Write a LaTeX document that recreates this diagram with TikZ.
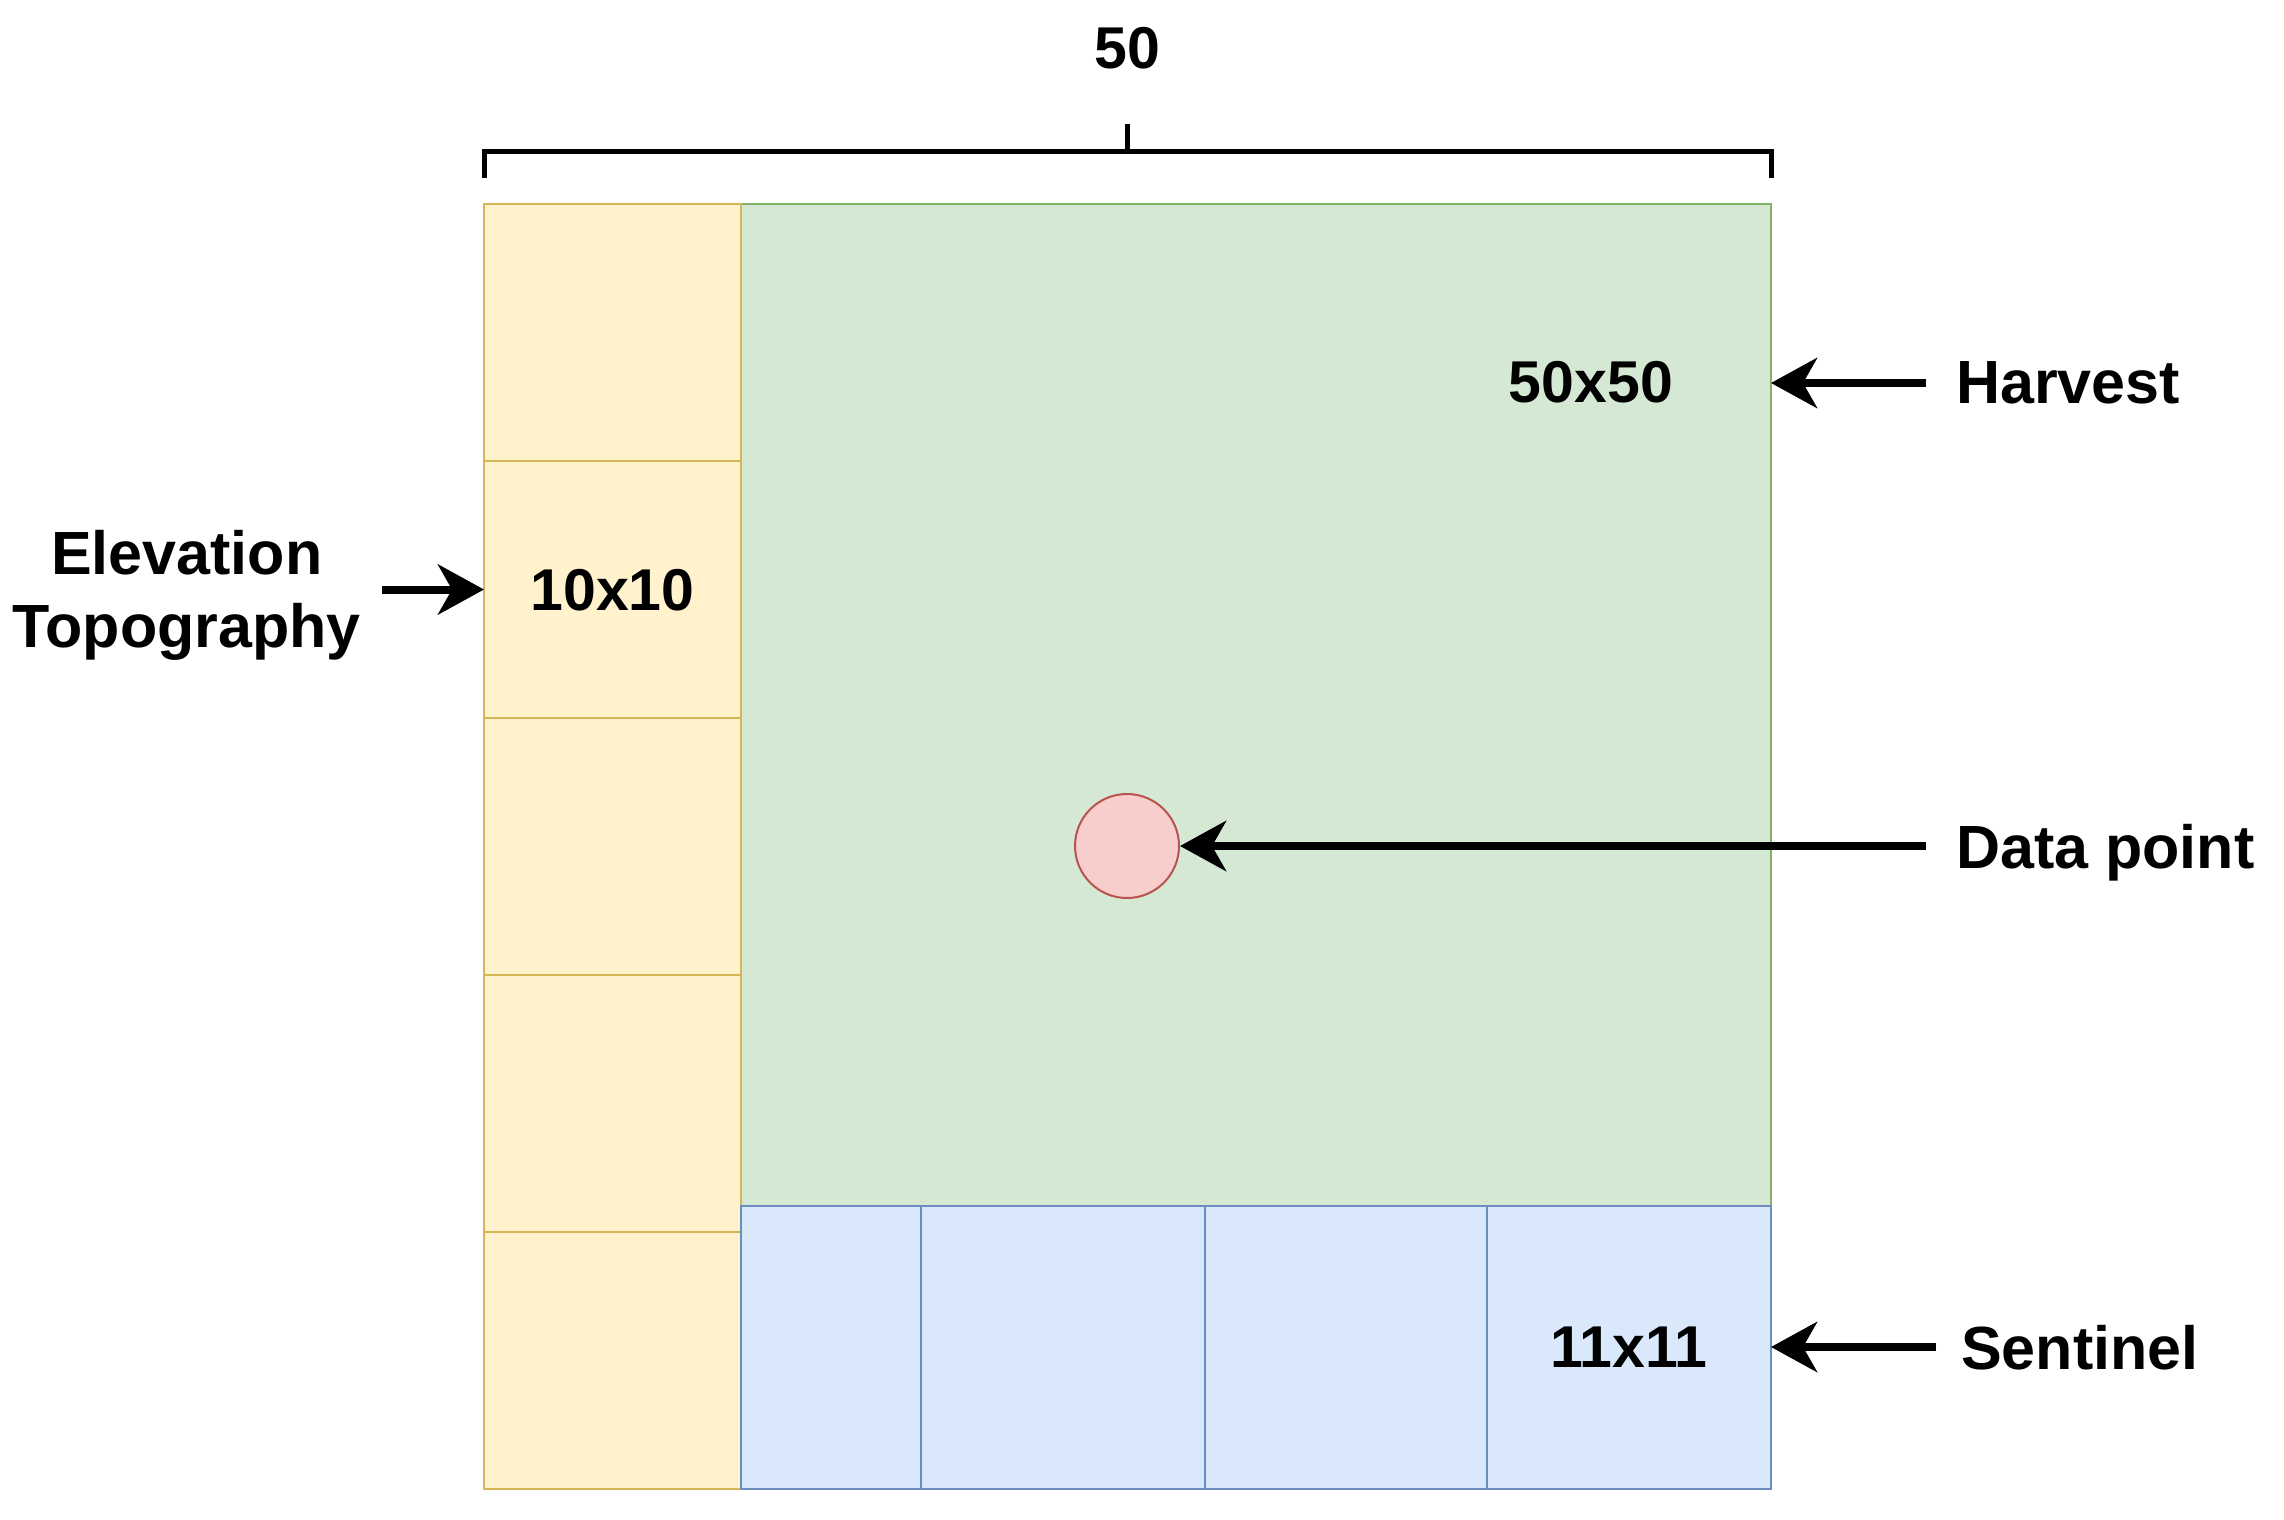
\documentclass[tikz,border=0pt]{standalone}
\usepackage{fontspec}
\setmainfont{Liberation Sans}
\usetikzlibrary{arrows.meta}
\definecolor{yfill}{HTML}{FFF2CC}
\definecolor{ydraw}{HTML}{D6B656}
\definecolor{gfill}{HTML}{D5E8D4}
\definecolor{gdraw}{HTML}{82B366}
\definecolor{bfill}{HTML}{DAE8FC}
\definecolor{bdraw}{HTML}{6C8EBF}
\definecolor{rfill}{HTML}{F8CECC}
\definecolor{rdraw}{HTML}{B85450}
\tikzset{
  cell/.style={rectangle, line width=2.5pt, inner sep=0pt, outer sep=0pt},
  ycell/.style={cell, fill=yfill, draw=ydraw, minimum width=257pt, minimum height=257pt},
  gcell/.style={cell, fill=gfill, draw=gdraw},
  bcell/.style={cell, fill=bfill, draw=bdraw, minimum height=283pt},
  txt/.style={font=\fontsize{59}{73}\selectfont\bfseries, inner sep=0pt, text depth=0pt},
  lbl/.style={txt, font=\fontsize{61}{73}\selectfont\bfseries, anchor=west, inner xsep=30pt},
  arr/.style={line width=8pt, -{Stealth[length=46pt,width=50pt,inset=14pt]}},
  bracket/.style={line width=5pt}
}
\begin{document}
\begin{tikzpicture}[x=1pt,y=-1pt]
\useasboundingbox (0,0) rectangle (2284,1520);
\fill[white] (0,0) rectangle (2284,1520);

% green harvest area
\node[gcell, minimum width=1030pt, minimum height=1002pt] (green) at (1256,705) {};

% yellow elevation column
\node[ycell] (y1) at (612.5,332.5) {};
\node[ycell] (y2) at (612.5,589.5) {};
\node[ycell] (y3) at (612.5,846.5) {};
\node[ycell] (y4) at (612.5,1103.5) {};
\node[ycell] (y5) at (612.5,1360.5) {};

% blue sentinel row
\node[bcell, minimum width=180pt] (b1) at (831,1347.5) {};
\node[bcell, minimum width=284pt] (b2) at (1063,1347.5) {};
\node[bcell, minimum width=282pt] (b3) at (1346,1347.5) {};
\node[bcell, minimum width=284pt] (b4) at (1629,1347.5) {};

% inner texts
\node[txt] (t10) at (y2) {10x10};
\node[txt] (t50) at (1591,382) {50x50};
\node[txt] (t11) at (b4) {11x11};

% data point
\node[circle, fill=rfill, draw=rdraw, line width=2pt, minimum size=104pt, inner sep=0pt] (dp) at (1127,846) {};

% dimension bracket
\draw[bracket] (484,178) -- (484,151) -- (1771,151) -- (1771,178);
\draw[bracket] (1127,151) -- (1127,124);
\node[txt] (dim) at (1127,48) {50};

% labels and arrows
\node[lbl] (harvest) at (1926,383) {Harvest};
\draw[arr] (harvest.west) -- (harvest.west -| green.east);

\node[lbl] (dptext) at (1926,846) {Data point};
\draw[arr] (dptext.west) -- (dp.east);

\node[lbl, inner xsep=25pt] (sentinel) at (1936,1347) {Sentinel};
\draw[arr] (sentinel.west) -- (sentinel.west -| b4.east);

\node[font=\fontsize{61}{73}\selectfont\bfseries, align=center, inner ysep=0pt, inner xsep=21pt, anchor=east] (elev) at (382,595) {Elevation\\Topography};
\draw[arr] (elev.east |- y2) -- (y2.west);
\end{tikzpicture}
\end{document}
